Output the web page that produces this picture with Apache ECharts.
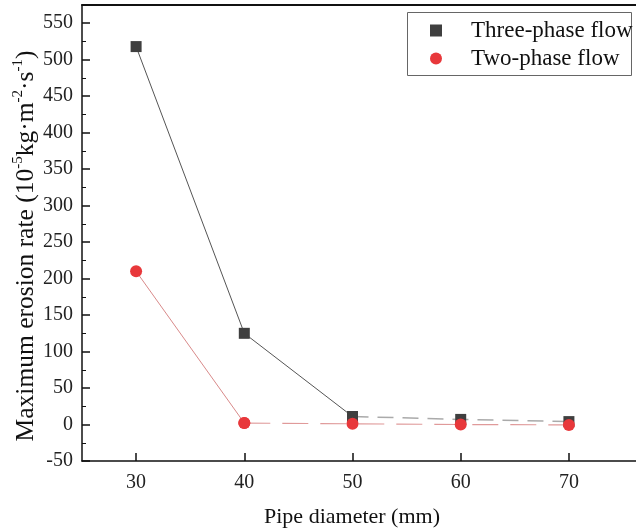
<!DOCTYPE html>
<html><head><meta charset="utf-8">
<script src="https://cdn.jsdelivr.net/npm/echarts@6/dist/echarts.min.js"></script>
<style>html,body{margin:0;padding:0;background:#fff;}#c{width:636px;height:532px;}</style>
</head><body><div id="c"></div>
<script>
var diameters = [30, 40, 50, 60, 70];
var threePhase = [518, 125, 11, 7, 4];
var twoPhase = [210, 2, 1, 0, -0.5];
var xTicks = [30, 40, 50, 60, 70];
var seriesNames = ['Three-phase flow', 'Two-phase flow'];

function pts(arr) { return arr.map(function (v, i) { return [diameters[i], v]; }); }
var tp = pts(threePhase), wp = pts(twoPhase);
var F = '"Liberation Serif", "Times New Roman", serif';

var chart = echarts.init(document.getElementById('c'));
chart.setOption({
  animation: false,
  backgroundColor: '#fff',
  grid: { left: 82, right: 0, top: 5, bottom: 71, containLabel: false, outerBoundsMode: 'none' },
  xAxis: [{
    type: 'value', min: 25, max: 76.2,
    name: 'Pipe diameter (mm)', nameLocation: 'middle', nameGap: 45, nameMoveOverlap: false,
    nameTextStyle: { fontFamily: F, fontSize: 22, color: '#111', padding: [0, 14, 0, 0] },
    axisLine: { show: true, onZero: false, lineStyle: { color: '#111', width: 1.5 } },
    axisTick: { show: true, inside: true, length: 8, customValues: xTicks, lineStyle: { color: '#111', width: 1.5 } },
    axisLabel: { customValues: xTicks, fontFamily: F, fontSize: 20, color: '#222', margin: 12 },
    splitLine: { show: false }
  }, {
    type: 'value', position: 'top', min: 25, max: 76.2,
    axisLine: { show: true, onZero: false, lineStyle: { color: '#111', width: 2 } },
    axisTick: { show: false }, axisLabel: { show: false }, splitLine: { show: false }
  }],
  yAxis: {
    type: 'value', min: -50, max: 575, interval: 50,
    name: '{a|Maximum erosion rate (10}{s|-5}{a|kg·m}{s|-2}{a|·s}{s|-1}{a|)}',
    nameLocation: 'middle', nameGap: 43, nameMoveOverlap: false,
    nameTextStyle: {
      padding: [0, 26, 0, 0],
      rich: {
        a: { fontFamily: F, fontSize: 25.5, color: '#111', lineHeight: 28, verticalAlign: 'bottom' },
        s: { fontFamily: F, fontSize: 15, color: '#111', lineHeight: 28, verticalAlign: 'top', padding: [0, 0, 12, 0] }
      }
    },
    axisLine: { show: true, onZero: false, lineStyle: { color: '#111', width: 1.5 } },
    axisTick: { show: true, inside: true, length: 8, lineStyle: { color: '#111', width: 1.5 } },
    minorTick: { show: true, splitNumber: 2, length: 4, lineStyle: { color: '#111', width: 1 } },
    axisLabel: {
      fontFamily: F, fontSize: 20, color: '#222', margin: 9,
      formatter: function (v) { return (v % 50 === 0) ? String(v) : ''; }
    },
    splitLine: { show: false }
  },
  legend: {
    orient: 'vertical', left: 425, top: 14, itemGap: 5,
    itemWidth: 12, itemHeight: 12,
    textStyle: { fontFamily: F, fontSize: 23, color: '#111', padding: [0, 0, 0, 24] },
    data: [
      { name: seriesNames[0], icon: 'rect' },
      { name: seriesNames[1], icon: 'circle' }
    ]
  },
  graphic: [{
    type: 'rect', left: 407, top: 12, z: -1,
    shape: { width: 224, height: 63 },
    style: { fill: '#fff', stroke: '#666', lineWidth: 1 }
  }],
  series: [
    {
      name: seriesNames[0], type: 'line', data: tp.slice(0, 3),
      symbol: 'rect', symbolSize: 11, itemStyle: { color: '#3f3f3f' },
      lineStyle: { color: '#555', width: 1 }, z: 2
    },
    {
      name: seriesNames[0], type: 'line', data: tp.slice(2),
      symbol: 'rect', symbolSize: 11, itemStyle: { color: '#3f3f3f' },
      lineStyle: { color: '#aaa', width: 1.5, type: [16, 9] }, z: 2
    },
    {
      name: seriesNames[1], type: 'line', data: wp.slice(0, 2),
      symbol: 'circle', symbolSize: 12, itemStyle: { color: '#e8383b' },
      lineStyle: { color: '#d98a8a', width: 1 }, z: 3
    },
    {
      name: seriesNames[1], type: 'line', data: wp.slice(1),
      symbol: 'circle', symbolSize: 12, itemStyle: { color: '#e8383b' },
      lineStyle: { color: '#e09a9a', width: 1.2, type: [26, 12] }, z: 3
    }
  ]
});
</script></body></html>
